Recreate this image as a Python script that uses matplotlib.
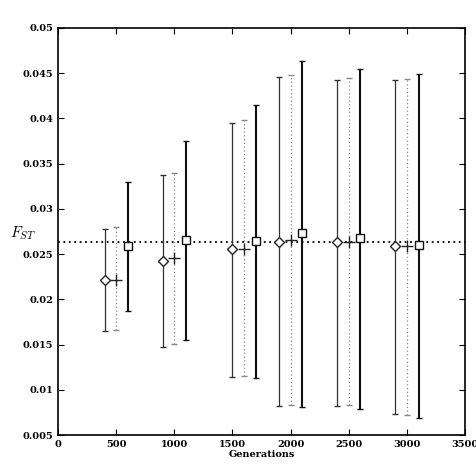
from matplotlib import pyplot as plt
import numpy as np

plt.rcParams['font.family'] = 'DejaVu Serif'
plt.rcParams['mathtext.fontset'] = 'cm'

# diamond series
gen_a = [400, 900, 1500, 1900, 2400, 2900]
mean_a = [0.0222, 0.0243, 0.0256, 0.0264, 0.0264, 0.0259]
top_a = [0.0278, 0.0338, 0.0395, 0.0446, 0.0443, 0.0443]
bot_a = [0.0165, 0.0148, 0.0114, 0.0082, 0.0082, 0.0074]

# plus series
gen_b = [500, 1000, 1600, 2000, 2500, 3000]
mean_b = [0.0222, 0.0246, 0.0256, 0.0266, 0.0264, 0.0259]
top_b = [0.0280, 0.0340, 0.0398, 0.0448, 0.0445, 0.0444]
bot_b = [0.0166, 0.0151, 0.0116, 0.0083, 0.0083, 0.0072]

# square series
gen_c = [600, 1100, 1700, 2100, 2600, 3100]
mean_c = [0.0259, 0.0266, 0.0265, 0.0273, 0.0268, 0.0260]
top_c = [0.0330, 0.0375, 0.0415, 0.0463, 0.0455, 0.0449]
bot_c = [0.0187, 0.0155, 0.0113, 0.0081, 0.0079, 0.0069]

ref_line = 0.0263


def err(mean, top, bot):
    mean = np.array(mean)
    return [mean - np.array(bot), np.array(top) - mean]


fig = plt.figure(figsize=(4.76, 4.66), dpi=100)
ax = fig.add_axes([0.122, 0.066, 0.855, 0.874])

ax.axhline(ref_line, color='black', linestyle=(0, (1, 2)), linewidth=1.3, zorder=1)

ax.errorbar(gen_a, mean_a, err(mean_a, top_a, bot_a), linestyle='None', marker='D',
            markersize=5, markerfacecolor='white', markeredgecolor='#222222',
            markeredgewidth=1.0, color='#333333', elinewidth=0.9, capsize=2.5, capthick=1.2)
eb = ax.errorbar(gen_b, mean_b, err(mean_b, top_b, bot_b), linestyle='None', marker='+',
                 markersize=8, markeredgecolor='#222222', markeredgewidth=1.0,
                 color='#888888', elinewidth=0.9, capsize=2.5, capthick=0.8)
eb[2][0].set_linestyle((0, (1, 2)))
ax.errorbar(gen_c, mean_c, err(mean_c, top_c, bot_c), linestyle='None', marker='s',
            markersize=5.5, markerfacecolor='white', markeredgecolor='#111111',
            markeredgewidth=1.0, color='#111111', elinewidth=1.5, capsize=2.5, capthick=1.5)

ax.set_xlim(0, 3500)
ax.set_ylim(0.005, 0.05)
ax.set_xticks(np.arange(0, 3501, 500))
ax.set_yticks(np.arange(0.005, 0.0501, 0.005))
ax.set_yticklabels(['0.005', '0.01', '0.015', '0.02', '0.025', '0.03',
                    '0.035', '0.04', '0.045', '0.05'])
ax.tick_params(direction='in', top=True, right=True, length=4, labelsize=7)
for lab in ax.get_xticklabels() + ax.get_yticklabels():
    lab.set_fontweight('bold')
for s in ax.spines.values():
    s.set_linewidth(1.2)

ax.set_xlabel('Generations', fontsize=7, fontweight='bold', labelpad=1)
fig.text(0.022, 0.5, r'$F_{ST}$', fontsize=11, ha='left', va='center')

plt.savefig('out.png', dpi=100)
